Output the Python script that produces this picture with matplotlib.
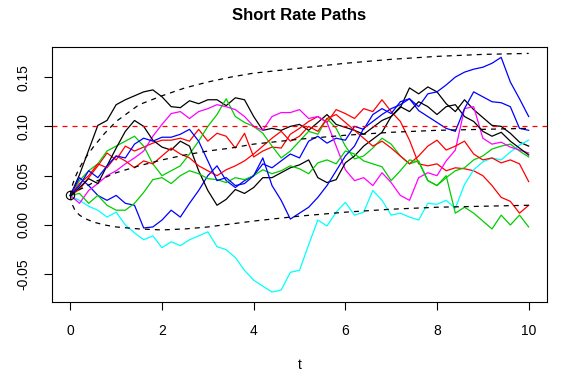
import numpy as np
import matplotlib.pyplot as plt

plt.rcParams['font.family'] = ['Liberation Sans', 'DejaVu Sans']

# time grid of the simulated paths (step 0.2)
t = np.linspace(0, 10, 51)

# paths, in matplot column order
black1 = [0.030, 0.051, 0.076, 0.101, 0.106, 0.122, 0.127, 0.131, 0.135, 0.137,
          0.130, 0.120, 0.119, 0.126, 0.123, 0.127, 0.127, 0.121, 0.129, 0.127,
          0.110, 0.096, 0.098, 0.096, 0.100, 0.102, 0.096, 0.104, 0.112, 0.102,
          0.099, 0.096, 0.092, 0.099, 0.106, 0.110, 0.119, 0.139, 0.133, 0.140,
          0.135, 0.123, 0.115, 0.127, 0.117, 0.109, 0.101, 0.100, 0.093, 0.084, 0.080]
red1 = [0.030, 0.036, 0.048, 0.060, 0.073, 0.066, 0.080, 0.075, 0.079, 0.083,
        0.086, 0.086, 0.088, 0.085, 0.097, 0.085, 0.093, 0.090, 0.078, 0.093,
        0.069, 0.075, 0.079, 0.078, 0.092, 0.098, 0.105, 0.110, 0.104, 0.117,
        0.113, 0.108, 0.118, 0.115, 0.127, 0.115, 0.105, 0.086, 0.062, 0.060,
        0.062, 0.055, 0.058, 0.057, 0.055, 0.050, 0.040, 0.028, 0.024, 0.012, 0.020]
green1 = [0.030, 0.045, 0.055, 0.062, 0.075, 0.080, 0.085, 0.090, 0.080, 0.062,
          0.050, 0.055, 0.060, 0.072, 0.085, 0.100, 0.112, 0.128, 0.110, 0.104,
          0.100, 0.093, 0.080, 0.068, 0.075, 0.085, 0.095, 0.092, 0.108, 0.098,
          0.080, 0.067, 0.070, 0.078, 0.088, 0.082, 0.070, 0.062, 0.065, 0.045,
          0.040, 0.048, 0.055, 0.058, 0.066, 0.070, 0.077, 0.080, 0.082, 0.075, 0.069]
blue1 = [0.030, 0.048, 0.040, 0.030, 0.025, 0.030, 0.022, 0.020, -0.003, -0.002,
         0.005, 0.015, 0.008, 0.022, 0.035, 0.050, 0.060, 0.045, 0.038, 0.045,
         0.050, 0.062, 0.058, 0.065, 0.072, 0.068, 0.085, 0.090, 0.083, 0.088,
         0.086, 0.100, 0.097, 0.112, 0.118, 0.113, 0.125, 0.128, 0.120, 0.133,
         0.135, 0.142, 0.150, 0.155, 0.158, 0.160, 0.164, 0.170, 0.145, 0.128, 0.110]
cyan1 = [0.029, 0.025, 0.019, 0.015, 0.008, 0.013, 0.000, -0.008, -0.015, -0.011,
         -0.023, -0.017, -0.021, -0.015, -0.011, -0.007, -0.022, -0.025, -0.033, -0.046,
         -0.056, -0.062, -0.068, -0.066, -0.048, -0.046, -0.020, 0.005, -0.001, 0.013,
         0.023, 0.010, 0.013, 0.035, 0.025, 0.010, 0.012, 0.008, 0.005, 0.022,
         0.021, 0.025, 0.017, 0.041, 0.056, 0.064, 0.068, 0.066, 0.074, 0.081, 0.086]
magenta1 = [0.030, 0.022, 0.035, 0.042, 0.050, 0.055, 0.062, 0.068, 0.075, 0.090,
            0.102, 0.113, 0.115, 0.108, 0.115, 0.118, 0.122, 0.120, 0.117, 0.110,
            0.100, 0.096, 0.110, 0.114, 0.114, 0.117, 0.108, 0.110, 0.104, 0.080,
            0.056, 0.045, 0.048, 0.040, 0.053, 0.043, 0.030, 0.025, 0.048, 0.053,
            0.050, 0.065, 0.076, 0.118, 0.120, 0.088, 0.082, 0.084, 0.079, 0.076, 0.073]
black2 = [0.030, 0.038, 0.047, 0.042, 0.060, 0.078, 0.095, 0.106, 0.100, 0.086,
          0.079, 0.076, 0.085, 0.080, 0.055, 0.035, 0.020, 0.026, 0.036, 0.032,
          0.038, 0.048, 0.048, 0.053, 0.058, 0.061, 0.066, 0.048, 0.043, 0.046,
          0.063, 0.070, 0.080, 0.087, 0.094, 0.110, 0.120, 0.115, 0.125, 0.120,
          0.112, 0.120, 0.122, 0.110, 0.105, 0.095, 0.090, 0.094, 0.085, 0.078, 0.071]
red2 = [0.030, 0.042, 0.050, 0.062, 0.058, 0.070, 0.065, 0.058, 0.065, 0.062,
        0.070, 0.078, 0.072, 0.068, 0.060, 0.055, 0.050, 0.056, 0.060, 0.065,
        0.072, 0.080, 0.088, 0.095, 0.085, 0.090, 0.100, 0.095, 0.108, 0.112,
        0.104, 0.096, 0.088, 0.080, 0.085, 0.078, 0.070, 0.062, 0.070, 0.080,
        0.086, 0.076, 0.080, 0.085, 0.072, 0.066, 0.068, 0.063, 0.066, 0.062, 0.044]
green2 = [0.030, 0.032, 0.022, 0.030, 0.020, 0.015, 0.015, 0.022, 0.033, 0.046,
          0.048, 0.042, 0.050, 0.055, 0.052, 0.047, 0.046, 0.043, 0.048, 0.046,
          0.050, 0.056, 0.052, 0.055, 0.060, 0.057, 0.052, 0.063, 0.066, 0.062,
          0.075, 0.072, 0.065, 0.062, 0.059, 0.045, 0.055, 0.066, 0.064, 0.045,
          0.040, 0.050, 0.012, 0.018, 0.012, 0.004, -0.004, 0.010, 0.000, 0.010, -0.002]
blue2 = [0.030, 0.040, 0.055, 0.048, 0.060, 0.070, 0.068, 0.082, 0.088, 0.085,
         0.089, 0.089, 0.092, 0.097, 0.085, 0.065, 0.045, 0.048, 0.040, 0.042,
         0.050, 0.068, 0.040, 0.025, 0.006, 0.012, 0.018, 0.028, 0.040, 0.055,
         0.070, 0.080, 0.098, 0.105, 0.112, 0.118, 0.122, 0.128, 0.116, 0.110,
         0.104, 0.098, 0.095, 0.118, 0.135, 0.130, 0.125, 0.124, 0.120, 0.098, 0.096]

paths = [black1, red1, green1, blue1, cyan1, magenta1, black2, red2, green2, blue2]
path_colors = ['black', 'red', '#00CD00', 'blue', 'cyan', 'magenta',
               'black', 'red', '#00CD00', 'blue']

# expected value and +/- 2 sd band
t_band = [0, 0.02, 0.05, 0.1, 0.2, 0.3, 0.5, 0.75, 1, 1.5, 2, 2.5, 3, 3.5, 4,
          5, 6, 7, 8, 9, 10]
upper = [0.030, 0.036, 0.041, 0.048, 0.058, 0.066, 0.079, 0.093, 0.105, 0.122,
         0.131, 0.139, 0.145, 0.150, 0.154, 0.159, 0.164, 0.168, 0.171, 0.173, 0.174]
mean = [0.030, 0.030, 0.031, 0.033, 0.036, 0.038, 0.043, 0.048, 0.053, 0.060,
        0.066, 0.071, 0.075, 0.078, 0.082, 0.087, 0.091, 0.094, 0.096, 0.097, 0.098]
lower = [0.030, 0.024, 0.020, 0.015, 0.010, 0.007, 0.003, 0.000, -0.002, -0.004,
         -0.005, -0.004, -0.002, 0.001, 0.004, 0.009, 0.013, 0.016, 0.018, 0.019, 0.020]
theta = 0.10
r0 = 0.03

fig = plt.figure(figsize=(5.68, 3.82), dpi=100)
ax = fig.add_axes([52 / 568, 80 / 382, 495 / 568, 255 / 382])

for vals, c in zip(paths, path_colors):
    ax.plot(t, vals, color=c, lw=0.9)

ax.plot(0, r0, 'o', mfc='none', mec='black', ms=6, mew=0.8)

dash = (0, (4, 4))
ax.plot(t_band, mean, color='black', lw=0.9, ls=dash)
ax.plot(t_band, upper, color='black', lw=0.9, ls=dash)
ax.plot(t_band, lower, color='black', lw=0.9, ls=dash)
ax.axhline(theta, color='red', lw=0.9, ls=dash)

ax.set_xlim(-0.4, 10.4)
ax.set_ylim(-0.0781, 0.1805)
ax.set_xticks([0, 2, 4, 6, 8, 10])
ax.set_yticks([-0.05, 0.0, 0.05, 0.10, 0.15])
ax.set_yticklabels(['-0.05', '0.00', '0.05', '0.10', '0.15'], rotation=90, va='center')
ax.tick_params(length=5.5, width=0.8, pad=10, labelsize=10)
for s in ax.spines.values():
    s.set_linewidth(0.8)

ax.set_xlabel('t', fontsize=10, labelpad=15)
fig.text(299.5 / 568, 1 - 15 / 382, 'Short Rate Paths', ha='center', va='center',
         fontsize=12, fontweight='bold')

fig.savefig('out.png', dpi=100)
